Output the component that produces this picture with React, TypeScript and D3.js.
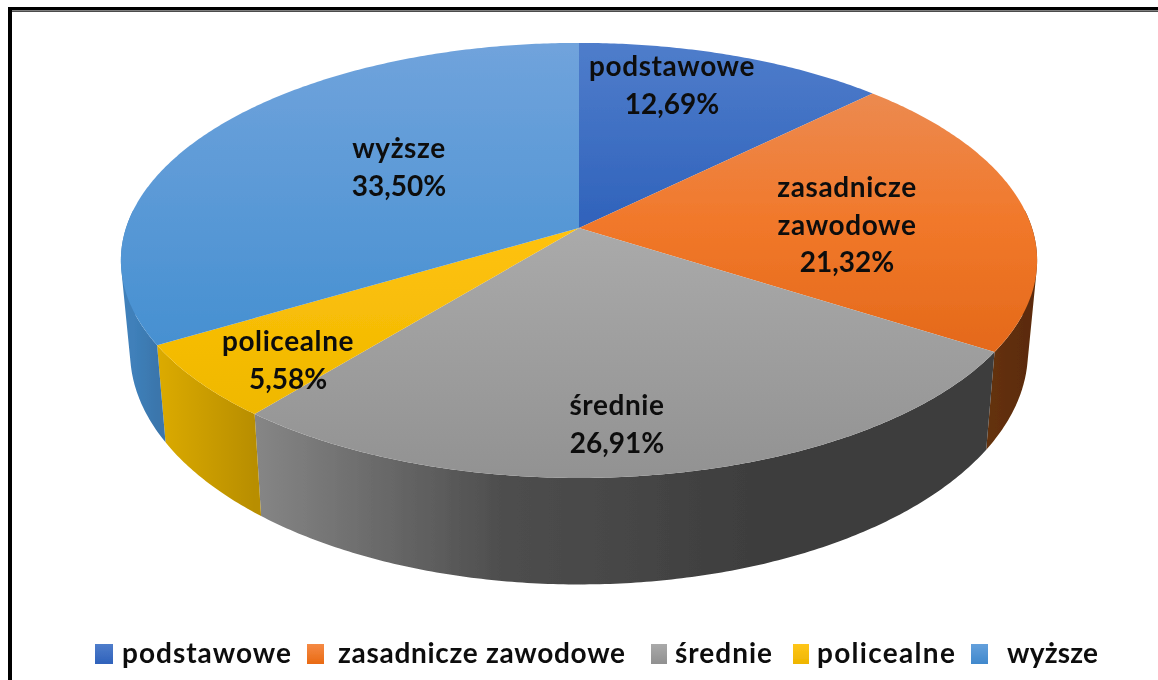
import React from "react";
import * as d3 from "d3";

const categories = ["podstawowe", "zasadnicze zawodowe", "średnie", "policealne", "wyższe"];
const shares = [12.69, 21.32, 26.91, 5.58, 33.5];
const shareLabels = ["12,69%", "21,32%", "26,91%", "5,58%", "33,50%"];
const labelLines = [["podstawowe"], ["zasadnicze", "zawodowe"], ["średnie"], ["policealne"], ["wyższe"]];

const topColors = [
  ["#4f7dcb", "#2f62bb"],
  ["#ec8a50", "#f1782a", "#e4691a"],
  ["#aaaaaa", "#929292"],
  ["#ffc20d", "#efb800"],
  ["#70a3dc", "#4690d1"],
];
const sideColors = [
  ["#2a5590", "#2a5590"],
  ["#643008", "#5c2c08"],
  ["#868686", "#4e4e4e", "#3e3e3e", "#3c3c3c"],
  ["#dcab00", "#b88e00"],
  ["#3f80ba", "#3a76ac"],
];
const legendColors = [
  ["#4f7dcb", "#2f62bb"],
  ["#f58a45", "#e96a12"],
  ["#aaaaaa", "#909090"],
  ["#ffc61a", "#eeb500"],
  ["#64a0dc", "#4088cc"],
];

const WIDTH = 1158;
const HEIGHT = 680;

// perspective disc: top face and the (slightly narrower, lower) bottom face
const cx = 579;
const topY = 228;
const rimA = 453;
const rimB = 212.7;
const persp = 0.149;
const bottomY = 317;
const bottomScaleX = 0.98;
const bottomScaleY = 1.07;

const project = (angle: number, r = 1, bottom = false): [number, number] => {
  const u = Math.sin(angle) * r;
  const v = Math.cos(angle) * r;
  const w = 1 + persp * v;
  const sx = bottom ? bottomScaleX : 1;
  const sy = bottom ? bottomScaleY : 1;
  const y0 = bottom ? bottomY : topY;
  return [cx + (rimA * sx * u) / w, y0 - (rimB * sy * v) / w];
};

const line = d3.line();

const arcAngles = (a0: number, a1: number) => {
  const n = Math.max(2, Math.ceil((a1 - a0) / 0.01));
  return d3.range(n + 1).map((i) => a0 + ((a1 - a0) * i) / n);
};

const slices = d3
  .pie<number>()
  .sort(null)
  .value((d) => d)(shares);

const topPath = (a0: number, a1: number) =>
  line([[cx, topY], ...arcAngles(a0, a1).map((a) => project(a))]) + "Z";

// wall built from thin quads, all wound the same way so the tangents fill cleanly
const sidePath = (a0: number, a1: number) => {
  const angles = arcAngles(a0, a1);
  return d3
    .pairs(angles)
    .map(([p, q]) => {
      let quad = [project(p), project(q), project(q, 1, true), project(p, 1, true)] as [number, number][];
      if (d3.polygonArea(quad) < 0) quad = quad.reverse();
      return line(quad) + "Z";
    })
    .join("");
};

const sideFrom = (85 * Math.PI) / 180;
const sideTo = (275 * Math.PI) / 180;

const labelCenters = [
  [672, 76],
  [847, 197],
  [617, 415],
  [288, 351],
  [399, 158],
];
const labelStep = 37.5;

const legendX = [95, 307, 651, 793, 971];
const legendW = [18, 17, 16, 16, 17];
const legendTextX = [122, 338, 675, 817, 1007];
const legendSpacing = [1, 0.7, 1, 1.3, 0.2];

const labelFont = "Lato, 'Open Sans', sans-serif";

const stops = (colors: string[]) =>
  colors.map((c, j) => <stop key={j} offset={j / (colors.length - 1)} stopColor={c} />);

export default function App() {
  return (
    <svg
      width={WIDTH}
      height={HEIGHT}
      style={{ position: "absolute", left: 0, top: 0, background: "#fff" }}
    >
      <defs>
        {slices.map((s, i) => {
          const sideStart = project(Math.max(s.startAngle, sideFrom));
          const sideEnd = project(Math.min(s.endAngle, sideTo));
          const fromRight = sideStart[0] > sideEnd[0];
          return (
            <React.Fragment key={i}>
              <linearGradient id={`top${i}`} x1="0" y1="0" x2="0" y2="1">
                {stops(topColors[i])}
              </linearGradient>
              <linearGradient id={`leg${i}`} x1="0" y1="0" x2="0" y2="1">
                {stops(legendColors[i])}
              </linearGradient>
              <linearGradient
                id={`side${i}`}
                gradientUnits="userSpaceOnUse"
                x1={fromRight ? sideEnd[0] : sideStart[0]}
                y1="0"
                x2={fromRight ? sideStart[0] : sideEnd[0]}
                y2="0"
              >
                {stops(sideColors[i])}
              </linearGradient>
            </React.Fragment>
          );
        })}
        <filter id="soft" x="-5%" y="-5%" width="110%" height="110%">
          <feGaussianBlur stdDeviation="0.6" />
        </filter>
      </defs>

      {/* frame */}
      <rect x={8} y={7} width={WIDTH - 8} height={3} fill="#000" />
      <rect x={12} y={10.5} width={WIDTH - 12} height={1.2} fill="#000" />
      <rect x={8} y={7} width={4} height={HEIGHT - 7} fill="#000" />

      <g filter="url(#soft)">
        {/* walls */}
        {slices.map((s, i) => {
          const a0 = Math.max(s.startAngle, sideFrom);
          const a1 = Math.min(s.endAngle, sideTo);
          return a1 > a0 ? <path key={i} d={sidePath(a0, a1)} fill={`url(#side${i})`} /> : null;
        })}

        {/* top face */}
        {slices.map((s, i) => (
          <path key={i} d={topPath(s.startAngle, s.endAngle)} fill={`url(#top${i})`} />
        ))}
      </g>

      {/* data labels */}
      <g fontFamily={labelFont} fontWeight={700} fill="#111" textAnchor="middle" filter="url(#soft)">
        {labelLines.map((lines, i) =>
          [...lines, shareLabels[i]].map((t, j) => (
            <text
              key={j}
              x={labelCenters[i][0]}
              y={labelCenters[i][1] + j * labelStep}
              fontSize={28}
              letterSpacing={j === lines.length ? 0 : 0.6}
            >
              {t}
            </text>
          ))
        )}
      </g>

      {/* legend */}
      <g filter="url(#soft)">
        {categories.map((c, i) => (
          <g key={c}>
            <rect x={legendX[i]} y={644} width={legendW[i]} height={20} fill={`url(#leg${i})`} />
            <text
              x={legendTextX[i]}
              y={663}
              fontFamily={labelFont}
              fontWeight={700}
              fontSize={28}
              letterSpacing={legendSpacing[i]}
              fill="#111"
            >
              {c}
            </text>
          </g>
        ))}
      </g>
    </svg>
  );
}
